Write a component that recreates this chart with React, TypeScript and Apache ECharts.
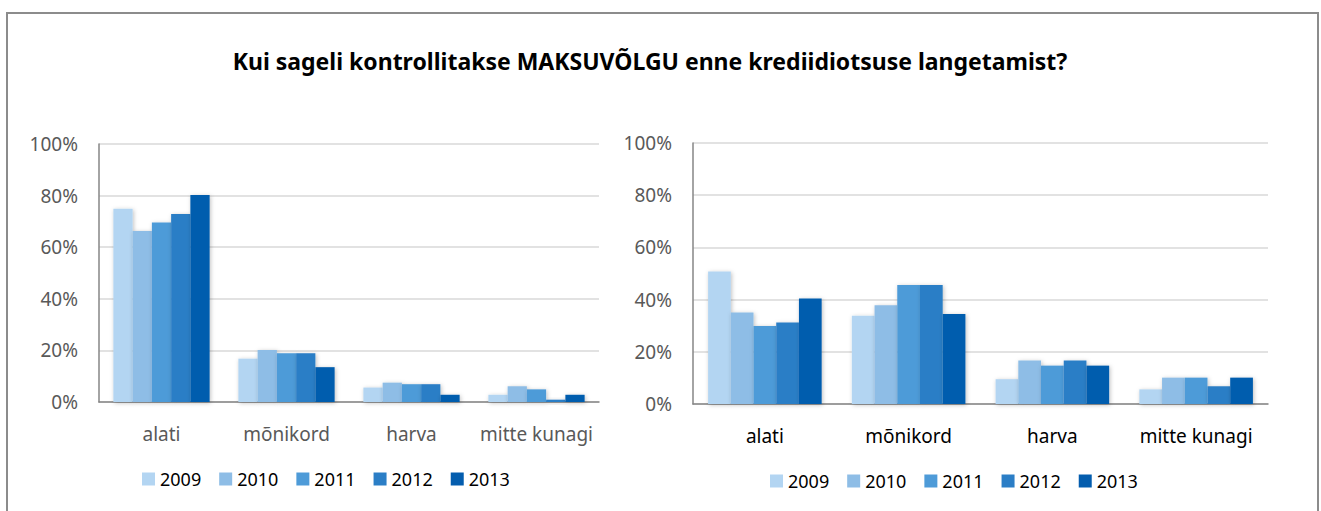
import React, { useEffect, useRef } from "react";
import * as echarts from "echarts";

const categories = ["alati", "mõnikord", "harva", "mitte kunagi"];
const years = ["2009", "2010", "2011", "2012", "2013"];
const yTicks = [0, 20, 40, 60, 80, 100];

// Left chart values (%), per year across categories
const left2009 = [74.9, 16.8, 5.6, 2.8];
const left2010 = [66.3, 20.2, 7.5, 6.1];
const left2011 = [69.6, 18.9, 6.9, 4.9];
const left2012 = [72.9, 18.9, 6.9, 0.9];
const left2013 = [80.2, 13.5, 2.8, 2.8];

// Right chart values (%)
const right2009 = [50.8, 33.8, 9.5, 5.6];
const right2010 = [35.1, 37.8, 16.7, 10.1];
const right2011 = [29.9, 45.6, 14.7, 10.1];
const right2012 = [31.2, 45.6, 16.7, 6.8];
const right2013 = [40.4, 34.5, 14.7, 10.1];

const colors = ["#B3D5F2", "#8EBDE6", "#4E9BD8", "#2B7EC6", "#045DAE"];
const title = "Kui sageli kontrollitakse MAKSUVÕLGU enne krediidiotsuse langetamist?";

const FONT = "'Noto Sans', sans-serif";

export default function App() {
  const ref = useRef<HTMLDivElement>(null);
  useEffect(() => {
    document.body.style.margin = "0";
    const chart = echarts.init(ref.current!, null, { renderer: "svg" });
    const leftData = [left2009, left2010, left2011, left2012, left2013];
    const rightData = [right2009, right2010, right2011, right2012, right2013];

    const yAxisCommon = (gridIndex: number) => ({
      type: "value",
      gridIndex,
      min: yTicks[0],
      max: yTicks[yTicks.length - 1],
      interval: 20,
      axisLine: { show: true, lineStyle: { color: "#868686", width: 1.5 } },
      axisTick: { show: false },
      splitLine: { show: true, lineStyle: { color: "#D9D9D9", width: 1.5 } },
      axisLabel: {
        formatter: "{value}%",
        color: "#595959",
        fontSize: 19,
        fontFamily: FONT,
        margin: 21,
      },
    });
    const xAxisCommon = (gridIndex: number, color: string) => ({
      type: "category",
      gridIndex,
      data: categories,
      axisLine: { show: true, lineStyle: { color: "#868686", width: 1.5 } },
      axisTick: { show: false },
      axisLabel: { color, fontSize: 19, fontFamily: FONT, margin: 22, interval: 0 },
    });

    const mkSeries = (data: number[][], idx: number, gap: string) =>
      years.map((y, i) => ({
        name: y,
        type: "bar",
        xAxisIndex: idx,
        yAxisIndex: idx,
        data: data[i],
        barGap: "0%",
        barCategoryGap: gap,
        itemStyle: {
          color: colors[i],
          shadowBlur: 4,
          shadowColor: "rgba(0,0,0,0.25)",
          shadowOffsetX: 1,
          shadowOffsetY: 1,
        },
      }));

    const legendCommon = {
      data: years,
      itemWidth: 13,
      itemHeight: 13,
      itemGap: 18,
      padding: 0,
      icon: "rect",
      textStyle: { color: "#000", fontSize: 18, fontFamily: FONT },
      selectedMode: false,
    };

    chart.setOption({
      animation: false,
      color: colors,
      grid: [
        { left: 99, top: 144, width: 500, height: 258 },
        { left: 693, top: 143, width: 575, height: 261 },
      ],
      xAxis: [xAxisCommon(0, "#595959"), xAxisCommon(1, "#000000")],
      yAxis: [yAxisCommon(0), yAxisCommon(1)],
      legend: [
        { ...legendCommon, left: 142, top: 470 },
        { ...legendCommon, left: 770, top: 472 },
      ],
      graphic: [
        {
          type: "rect",
          shape: { x: 7, y: 13, width: 1311, height: 520 },
          style: { fill: "none", stroke: "#8C8C8C", lineWidth: 2 },
          silent: true,
        },
        {
          type: "text",
          x: 650,
          y: 61,
          style: {
            text: title,
            fontSize: 23,
            fontWeight: "bold",
            fontFamily: FONT,
            fill: "#000",
            textAlign: "center",
            textVerticalAlign: "middle",
          },
        },
      ],
      series: [...mkSeries(leftData, 0, "23%"), ...mkSeries(rightData, 1, "21%")],
    });
    return () => chart.dispose();
  }, []);
  return <div ref={ref} style={{ width: 1321, height: 511 }} />;
}
